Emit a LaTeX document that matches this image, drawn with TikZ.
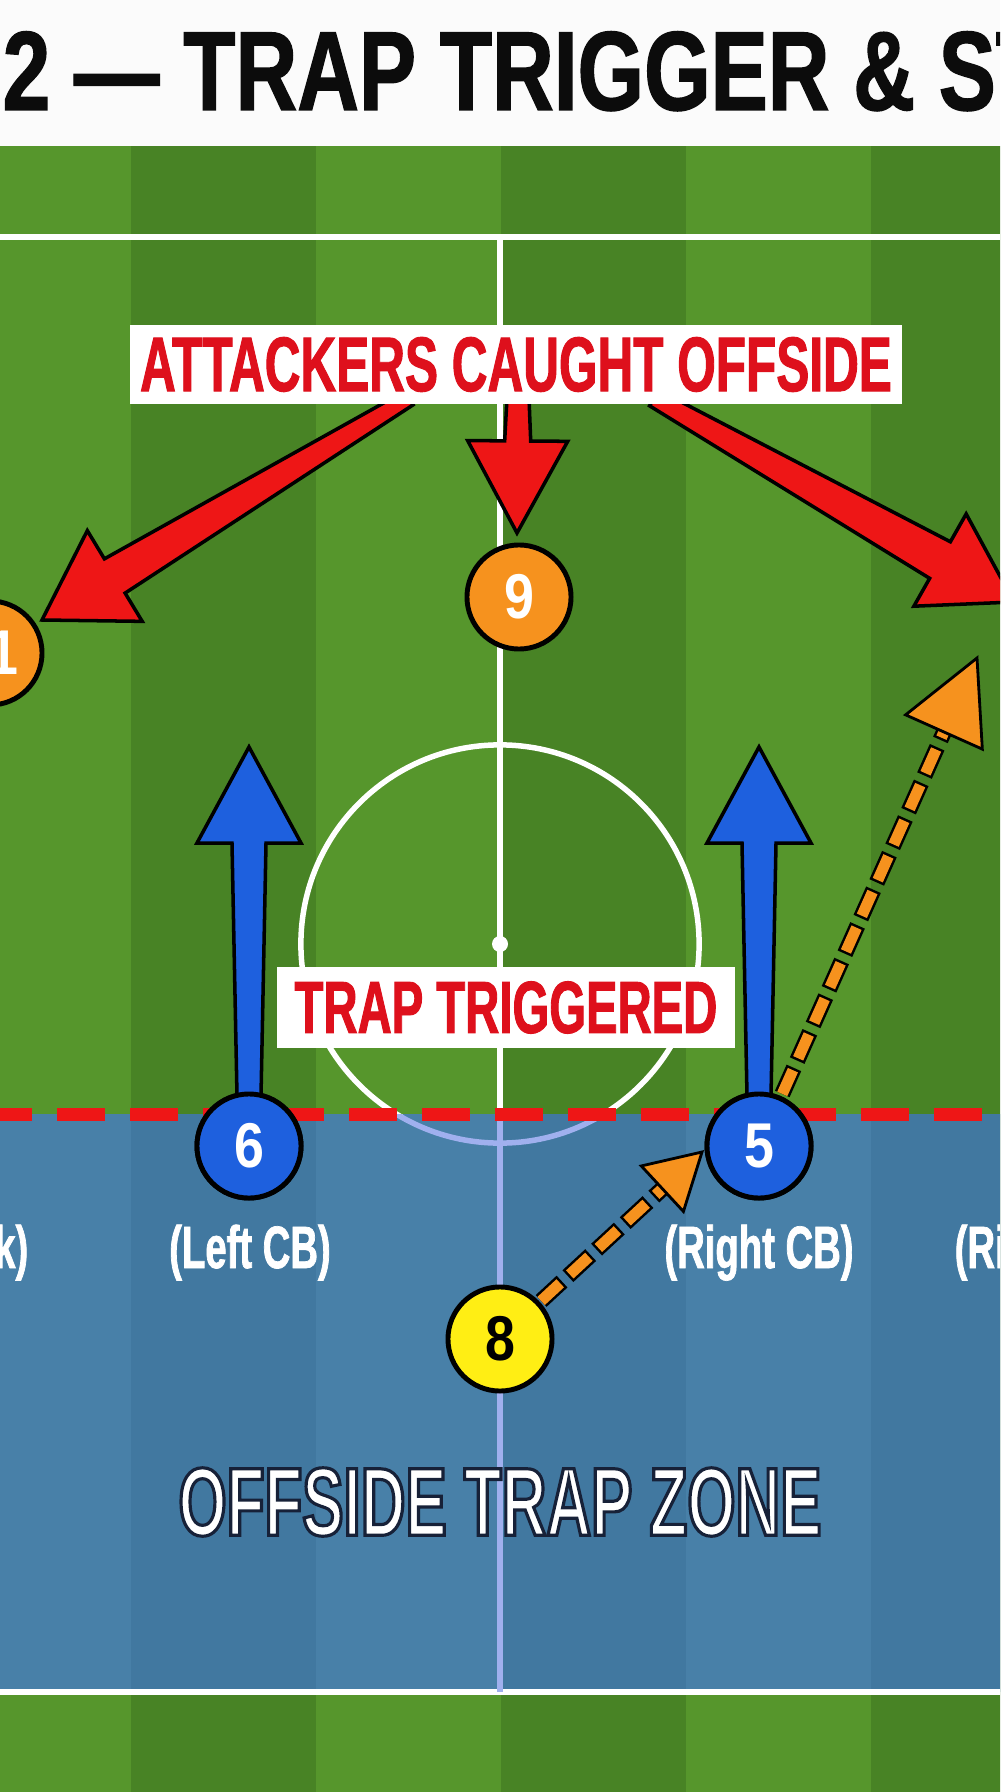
\documentclass[tikz,border=0pt]{standalone}
\usepackage{fontspec}
\setmainfont{Liberation Sans}
\newfontfamily\titlefont[FakeStretch=0.76, FakeBold=1.2]{Liberation Sans}
\newfontfamily\condfont[FakeStretch=0.64, FakeBold=1.2]{Liberation Sans}
\newfontfamily\zonefont[FakeStretch=0.64]{Liberation Sans}
\newfontfamily\numfont[FakeStretch=0.85]{Liberation Sans}
\usepackage{xcolor}
\usepackage{tikz}
\usetikzlibrary{calc}
\definecolor{grasslight}{RGB}{86,150,44}
\definecolor{grassdark}{RGB}{72,131,37}
\definecolor{zoneblue}{RGB}{72,128,168}
\definecolor{zonedark}{RGB}{65,120,160}
\definecolor{linelav}{RGB}{160,176,238}
\definecolor{alarmred}{RGB}{238,22,22}
\definecolor{textred}{RGB}{222,16,28}
\definecolor{defblue}{RGB}{30,96,222}
\definecolor{runorange}{RGB}{246,146,30}
\definecolor{midyellow}{RGB}{255,238,20}
\definecolor{titleblack}{RGB}{12,12,12}

% Outlined white lettering
\newcommand\outlined[2]{\special{pdf:literal direct 2 Tr #1 w 0.09 0.13 0.22 RG}#2\special{pdf:literal direct 0 Tr 0 0 0 RG}}

% Fat arrow: style, tail, tip, tail half-width, neck half-width, head length, head half-width
\newcommand\fatarrow[7]{%
  \coordinate (neck) at ($(#3)!#6!(#2)$);
  \draw[#1] ($(#2)!#4!90:(#3)$) -- ($(neck)!#5!90:(#3)$) -- ($(neck)!#7!90:(#3)$) -- (#3)
    -- ($(neck)!#7!-90:(#3)$) -- ($(neck)!#5!-90:(#3)$) -- ($(#2)!#4!-90:(#3)$) -- cycle;
}

% Dashed run: tail, tip, head length, head half-width
\newcommand\runarrow[4]{%
  \coordinate (runneck) at ($(#2)!#3!(#1)$);
  \draw[runedge] (#1) -- (runneck);
  \draw[runline] (#1) -- (runneck);
  \draw[runhead] (#2) -- ($(runneck)!#4!90:(#2)$) -- ($(runneck)!#4!-90:(#2)$) -- cycle;
}

\tikzset{
  player/.style={circle, draw=black, line width=1.4pt, minimum size=1.04cm, inner sep=0pt,
    font=\numfont\bfseries\fontsize{18}{18}\selectfont},
  defender/.style={player, fill=defblue, text=white},
  attacker/.style={player, fill=runorange, text=white},
  midfielder/.style={player, fill=midyellow, text=black},
  callout/.style={fill=white, inner sep=0pt, text=textred,
    font=\condfont\bfseries\fontsize{22}{22}\selectfont},
  rolelabel/.style={text=white, inner sep=0pt, anchor=base,
    font=\condfont\bfseries\fontsize{17}{17}\selectfont},
  fatred/.style={fill=alarmred, draw=black, line width=1pt},
  fatblue/.style={fill=defblue, draw=black, line width=1pt},
  runline/.style={draw=runorange, line width=0.11cm, dash pattern=on 0.26cm off 0.13cm},
  runedge/.style={draw=black, line width=0.16cm, dash pattern=on 0.31cm off 0.08cm, dash phase=0.025cm},
  runhead/.style={fill=runorange, draw=black, line width=0.8pt},
  pitchline/.style={draw=white, line width=0.055cm},
  zoneline/.style={draw=linelav, line width=0.055cm},
}

\begin{document}
\begin{tikzpicture}[x=0.01cm, y=-0.01cm]
    \useasboundingbox (0,0) rectangle (1000,1792);
    \clip (0,0) rectangle (1000,1792);

    % Title Band
    \fill[white!97!gray] (0,0) rectangle (1000,146);

    % Grass Stripes
    \fill[grasslight] (0,146) rectangle (1000,1792);
    \foreach \x in {131,501,871} {
        \fill[grassdark] (\x,146) rectangle (\x+185,1792);
    }

    % The Trap Zone
    \fill[zoneblue] (0,1114) rectangle (1000,1692);
    \foreach \x in {131,501,871} {
        \fill[zonedark] (\x,1114) rectangle (\x+185,1692);
    }

    % Pitch Markings
    \draw[pitchline] (0,237) -- (1000,237);
    \draw[pitchline] (0,1692) -- (1000,1692);
    \draw[pitchline] (500,237) -- (500,1114);
    \draw[zoneline] (500,1114) -- (500,1692);
    \begin{scope}
        \clip (0,146) rectangle (1000,1114);
        \draw[pitchline] (500,944) circle[radius=1.99cm];
    \end{scope}
    \begin{scope}
        \clip (0,1114) rectangle (1000,1692);
        \draw[zoneline] (500,944) circle[radius=1.99cm];
    \end{scope}
    \fill[white] (500,944) circle[radius=0.08cm];

    % The Offside Line
    \draw[alarmred, line width=0.13cm, dash pattern=on 0.48cm off 0.25cm] (-16,1114) -- (1000,1114);

    % Players
    \node[attacker] (p11) at (-10,653) {11};
    \node[attacker] (p9) at (519,597) {9};
    \node[defender] (p6) at (249,1146) {6};
    \node[defender] (p5) at (759,1146) {5};
    \node[midfielder] (p8) at (500,1339) {8};

    % Red Callout Arrows
    \coordinate (tailL) at (409,398);
    \coordinate (tailC) at (518,398);
    \coordinate (tailR) at (654,398);
    \coordinate (tipL) at (42,620);
    \coordinate (tipC) at (517,533);
    \coordinate (tipR) at (1014,602);
    \fatarrow{fatred}{tailL}{tipL}{0.08cm}{0.2cm}{0.85cm}{0.53cm}
    \fatarrow{fatred}{tailC}{tipC}{0.11cm}{0.13cm}{0.92cm}{0.5cm}
    \fatarrow{fatred}{tailR}{tipR}{0.09cm}{0.21cm}{0.85cm}{0.53cm}

    % Defenders Step Up
    \coordinate (up6) at (249,747);
    \coordinate (up5) at (759,747);
    \fatarrow{fatblue}{p6.center}{up6}{0.11cm}{0.17cm}{0.96cm}{0.52cm}
    \fatarrow{fatblue}{p5.center}{up5}{0.11cm}{0.17cm}{0.96cm}{0.52cm}
    \node[defender] at (p6) {6};
    \node[defender] at (p5) {5};

    % Runs
    \coordinate (runTip) at (977,658);
    \coordinate (passTip) at (702,1152);
    \coordinate (runTail) at ($(p5.center)!0.57cm!(runTip)$);
    \coordinate (passTail) at ($(p8.center)!0.56cm!(passTip)$);
    \runarrow{runTail}{runTip}{0.81cm}{0.42cm}
    \runarrow{passTail}{passTip}{0.54cm}{0.31cm}

    % Callouts
    \node[callout, minimum width=7.71cm, minimum height=0.79cm] (caught) at (516,364.5) {ATTACKERS CAUGHT OFFSIDE};
    \node[callout, font=\condfont\bfseries\fontsize{21}{21}\selectfont, minimum width=4.58cm, minimum height=0.81cm] (trigger) at (506,1007.5) {TRAP TRIGGERED};

    % Role Labels
    \node[rolelabel, anchor=base east] (lbLeft) at (29,1268) {(Left Back)};
    \node[rolelabel] (lbLCB) at (250,1268) {(Left CB)};
    \node[rolelabel] (lbRCB) at (759,1268) {(Right CB)};
    \node[rolelabel, anchor=base west] (lbRight) at (954,1268) {(Right Back)};

    % Zone Label
    \node[text=white, inner sep=0pt, font=\zonefont\bfseries\fontsize{27.5}{27.5}\selectfont] (zone) at (500,1502) {\outlined{0.9}{OFFSIDE TRAP ZONE}};

    % Title
    \node[anchor=base west, inner sep=0pt, text=titleblack, font=\titlefont\bfseries\fontsize{32}{32}\selectfont] (title) at (2,110) {2 — TRAP TRIGGER \& ST};
\end{tikzpicture}
\end{document}
